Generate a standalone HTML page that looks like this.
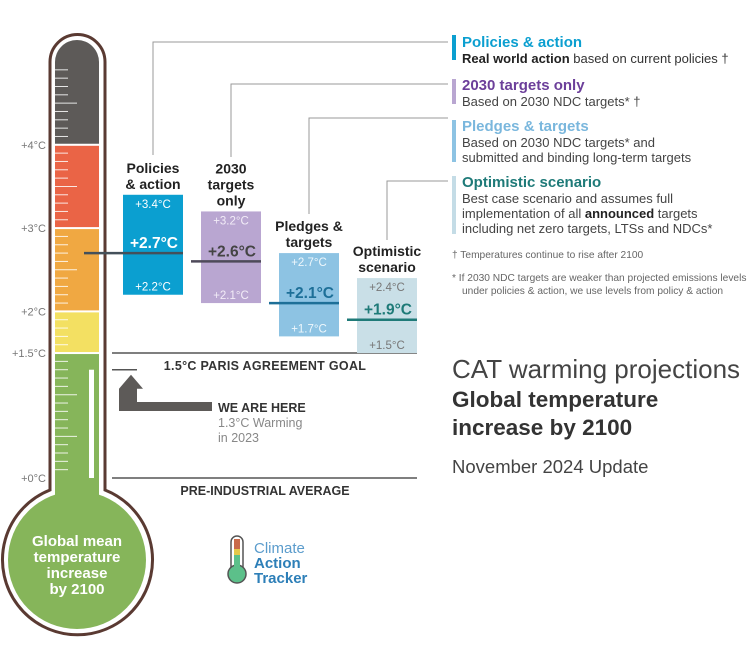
<!DOCTYPE html>
<html><head><meta charset="utf-8"><style>
body{margin:0;background:#fff;}
svg{display:block;font-family:"Liberation Sans",sans-serif;}
</style></head><body>
<svg id="chart" width="754" height="660" viewBox="0 0 754 660">
<g id="thermo"></g>
<g id="scen"></g>
<g id="legend">
 <rect x="452" y="35" width="4" height="25" fill="#0b9fd0"/>
 <text x="462" y="47" font-size="15" font-weight="bold" fill="#0b9fd0">Policies &amp; action</text>
 <text x="462" y="63" font-size="13" fill="#333"><tspan font-weight="bold" fill="#222">Real world action</tspan> based on current policies †</text>
 <rect x="452" y="79" width="4" height="25" fill="#b9a6d1"/>
 <text x="462" y="90" font-size="15" font-weight="bold" fill="#6c3f9a">2030 targets only</text>
 <text x="462" y="106" font-size="13" fill="#444">Based on 2030 NDC targets* †</text>
 <rect x="452" y="120" width="4" height="42" fill="#8dc3e3"/>
 <text x="462" y="131" font-size="15" font-weight="bold" fill="#7ab7dd">Pledges &amp; targets</text>
 <text x="462" y="147" font-size="13" fill="#444">Based on 2030 NDC targets* and</text>
 <text x="462" y="162" font-size="13" fill="#444">submitted and binding long-term targets</text>
 <rect x="452" y="176" width="4" height="58" fill="#c4dce6"/>
 <text x="462" y="187" font-size="15" font-weight="bold" fill="#1e7a78">Optimistic scenario</text>
 <text x="462" y="203" font-size="13" fill="#444">Best case scenario and assumes full</text>
 <text x="462" y="218" font-size="13" fill="#444">implementation of all <tspan font-weight="bold" fill="#222">announced</tspan> targets</text>
 <text x="462" y="233" font-size="13" fill="#444">including net zero targets, LTSs and NDCs*</text>
 <text x="452" y="258" font-size="10.2" fill="#666">†  Temperatures continue to rise after 2100</text>
 <text x="452" y="281" font-size="10.2" fill="#666">*  If 2030 NDC targets are weaker than projected emissions levels</text>
 <text x="462" y="294" font-size="10.2" fill="#666">under policies &amp; action, we use levels from policy &amp; action</text>
</g>
<g>
 <text x="452" y="378" font-size="26" fill="#444">CAT warming projections</text>
 <text x="452" y="407" font-size="22.5" font-weight="bold" fill="#333">Global temperature</text>
 <text x="452" y="435" font-size="22.5" font-weight="bold" fill="#333">increase by 2100</text>
 <text x="452" y="473" font-size="18.5" fill="#444">November 2024 Update</text>
</g>
<g>
 <rect x="231" y="536" width="12" height="40" rx="6" fill="#fff" stroke="#555" stroke-width="1.5"/>
 <circle cx="237" cy="574" r="9" fill="#5cc08a" stroke="#555" stroke-width="1.5"/>
 <rect x="234" y="539" width="6" height="12" fill="#c96a4a"/>
 <rect x="234" y="549" width="6" height="6" fill="#e4c84a"/>
 <rect x="234" y="555" width="6" height="14" fill="#5cc08a"/>
 <text x="254" y="553" font-size="15" fill="#5b9ccc">Climate</text>
 <text x="254" y="568" font-size="15" font-weight="bold" fill="#2d7fb8">Action</text>
 <text x="254" y="583" font-size="15" font-weight="bold" fill="#2d7fb8">Tracker</text>
</g>
</svg>
<script>
const names=["Policies\n& action","2030\ntargets\nonly","Pledges &\ntargets","Optimistic\nscenario"];
const highs=[3.4,3.2,2.7,2.4];
const lows=[2.2,2.1,1.7,1.5];
const medians=[2.7,2.6,2.1,1.9];
const tickLabels=[0,1.5,2,3,4];
const currentWarming=1.3;
const NS="http://www.w3.org/2000/svg";
function y(t){return 478-83.3*t;}
function mk(p,tag,a,txt){const e=document.createElementNS(NS,tag);for(const k in a)e.setAttribute(k,a[k]);if(txt!==undefined)e.textContent=txt;p.appendChild(e);return e;}
const th=document.getElementById('thermo');
mk(th,'path',{d:"M50,478 L50,62 A27.5,27.5 0 0 1 105,62 L105,490 A75,75 0 1 1 50,490 Z",fill:"#fff",stroke:"#5a3a32","stroke-width":3});
const bands=[[3,4,"#ea6446"],[2,3,"#f0a842"],[1.5,2,"#f3e062"],[-0.5,1.5,"#86b55a"]];
mk(th,'path',{d:"M55,"+(y(4)-1)+" L55,62 A22,22 0 0 1 99,62 L99,"+(y(4)-1)+" Z",fill:"#5d5a58"});
for(const b of bands){const r=mk(th,'rect',{x:55,y:y(b[1])+1,width:44,height:y(b[0])-y(b[1])-2,fill:b[2]});

}
mk(th,'circle',{cx:77,cy:560,r:69,fill:"#86b55a"});
mk(th,'rect',{x:55,y:470,width:44,height:40,fill:"#86b55a"});
for(let t=0.1;t<4.95;t+=0.1){const yy=y(t);const len=(Math.round(t*10)%5==0)?22:13;mk(th,'line',{x1:55,x2:55+len,y1:yy,y2:yy,stroke:"#fff","stroke-width":1,opacity:0.85});}
mk(th,'rect',{x:89,y:y(currentWarming),width:5,height:y(0)-y(currentWarming),fill:"#fff"});
for(const t of tickLabels){const l=mk(th,'text',{x:46,y:y(t)+4,"font-size":11,fill:"#777","text-anchor":"end"},"+"+t+"°C");

}
["Global mean","temperature","increase","by 2100"].forEach((s,i)=>mk(th,'text',{x:77,y:546+i*16,"font-size":15,"font-weight":"bold",fill:"#fff","text-anchor":"middle"},s));
const sc=document.getElementById('scen');
mk(sc,'line',{x1:112,x2:417,y1:y(1.5),y2:y(1.5),stroke:"#555","stroke-width":1.5});
mk(sc,'text',{x:265,y:y(1.5)+17,"font-size":12.5,"font-weight":"bold",fill:"#333","text-anchor":"middle","letter-spacing":"0.3"},"1.5°C PARIS AGREEMENT GOAL");
mk(sc,'line',{x1:112,x2:417,y1:y(0),y2:y(0),stroke:"#555","stroke-width":1.5});
mk(sc,'text',{x:265,y:y(0)+17,"font-size":12.5,"font-weight":"bold",fill:"#333","text-anchor":"middle"},"PRE-INDUSTRIAL AVERAGE");
mk(sc,'line',{x1:112,x2:137,y1:y(currentWarming),y2:y(currentWarming),stroke:"#555","stroke-width":1.5});
mk(sc,'path',{d:"M119,"+(y(currentWarming)+19)+" L131,"+(y(currentWarming)+5)+" L143,"+(y(currentWarming)+19)+" L137,"+(y(currentWarming)+19)+" L137,402 L212,402 L212,411 L119,411 L119,"+(y(currentWarming)+19)+" Z",fill:"#5d5a58"});
mk(sc,'text',{x:218,y:412,"font-size":12.5,"font-weight":"bold",fill:"#333"},"WE ARE HERE");
mk(sc,'text',{x:218,y:427,"font-size":12.5,fill:"#888"},"1.3°C Warming");
mk(sc,'text',{x:218,y:442,"font-size":12.5,fill:"#888"},"in 2023");
const fills=["#0b9fd0","#b9a6d1","#8dc3e3","#c9dfe7"];
const medCol=["#44505a","#4e4a5a","#1d6f98","#1e7a78"];
const medTxt=["#fff","#444","#1d6f98","#1e7a78"];
const rngTxt=["#fff","#f2ecf7","#eef7fc","#777"];
const legY=[42,84,118,181];
const topY=[155,157,214,240];
for(let i=0;i<names.length;i++){
 const x0=123+i*78, w=60, cx=x0+w/2;
 mk(sc,'path',{d:"M"+cx+","+topY[i]+" L"+cx+","+legY[i]+" L448,"+legY[i],fill:"none",stroke:"#999","stroke-width":1});
 const r=mk(sc,'rect',{x:x0,y:y(highs[i]),width:w,height:y(lows[i])-y(highs[i]),fill:fills[i]});
 
 
 const ml=mk(sc,'line',{x1:(i==0?84:x0-10),x2:x0+w,y1:y(medians[i]),y2:y(medians[i]),stroke:medCol[i],"stroke-width":2.5});
 
 
 mk(sc,'text',{x:cx,y:y(highs[i])+13,"font-size":11.5,fill:rngTxt[i],"text-anchor":"middle"},"+"+highs[i].toFixed(1)+"°C");
 mk(sc,'text',{x:cx,y:y(lows[i])-4,"font-size":11.5,fill:rngTxt[i],"text-anchor":"middle"},"+"+lows[i].toFixed(1)+"°C");
 mk(sc,'text',{x:cx+1,y:y(medians[i])-5,"font-size":15.5,"font-weight":"bold",fill:medTxt[i],"text-anchor":"middle"},"+"+medians[i].toFixed(1)+"°C");
 const lines=names[i].split("\n");
 lines.forEach((s,j)=>{const t=mk(sc,'text',{x:cx,y:y(highs[i])-6-(lines.length-1-j)*16,"font-size":14,"font-weight":"bold",fill:"#222","text-anchor":"middle"},s);
 
 });
}
</script>
</body></html>
